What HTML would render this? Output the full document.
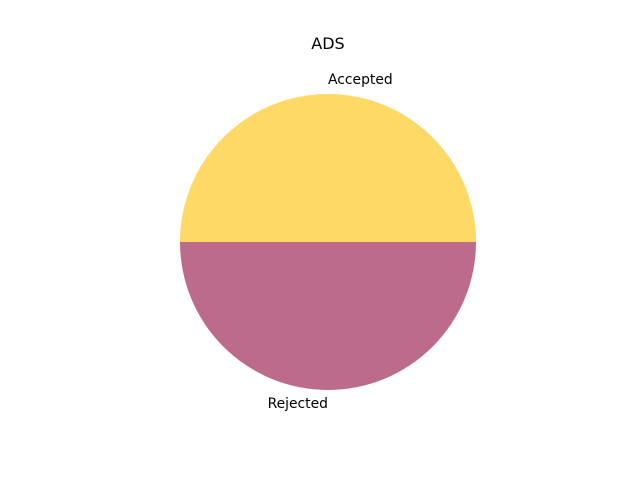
<!DOCTYPE html>
<html>
<head>
<meta charset="utf-8">
<style>
  html, body { margin:0; padding:0; background:#fff; }
  svg { display:block; }
  text { font-family: "DejaVu Sans", "Liberation Sans", sans-serif; fill:#000; }
</style>
</head>
<body>
<svg id="chart" width="640" height="480" viewBox="0 0 640 480">
  <text x="328" y="49" font-size="16" text-anchor="middle">ADS</text>
  <g id="slices"></g>
  <g id="labels"></g>
</svg>
<script>
const categories = ["Accepted", "Rejected"];
const values = [50, 50];
const colors = ["#ffd966", "#bc6c8a"];

const cx = 328, cy = 242, r = 148;
const NS = "http://www.w3.org/2000/svg";
const total = values.reduce((a, b) => a + b, 0);
let start = 0;
const sg = document.getElementById("slices");
const lg = document.getElementById("labels");
values.forEach((v, i) => {
  const sweep = v / total * 2 * Math.PI;
  const end = start + sweep;
  const x1 = cx + r * Math.cos(start), y1 = cy - r * Math.sin(start);
  const x2 = cx + r * Math.cos(end), y2 = cy - r * Math.sin(end);
  const large = sweep > Math.PI ? 1 : 0;
  const p = document.createElementNS(NS, "path");
  p.setAttribute("d", `M${cx},${cy} L${x1},${y1} A${r},${r} 0 ${large} 0 ${x2},${y2} Z`);
  p.setAttribute("fill", colors[i]);
  
  
  sg.appendChild(p);
  const mid = start + sweep / 2;
  const lx = cx + 1.1 * r * Math.cos(mid), ly = cy - 1.1 * r * Math.sin(mid);
  const t = document.createElementNS(NS, "text");
  t.setAttribute("x", lx);
  t.setAttribute("y", ly + (Math.sin(mid) > 0 ? 5 : 3));
  t.setAttribute("font-size", "13.9");
  t.setAttribute("text-anchor", Math.cos(mid) > 0 ? "start" : "end");
  t.textContent = categories[i];
  
  
  lg.appendChild(t);
  start = end;
});
</script>
</body>
</html>
